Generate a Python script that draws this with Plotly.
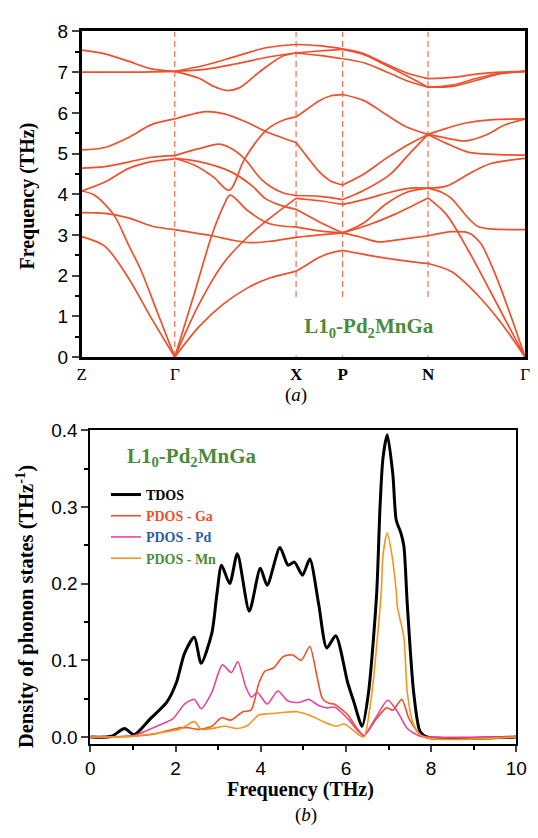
import plotly.graph_objects as go

# ---------------- Panel (a): phonon dispersion ----------------
kpoint_pos = [0, 96, 221, 269, 357, 457]
kpoint_labels = ["Z", "Γ", "<b>X</b>", "<b>P</b>", "<b>N</b>", "Γ"]
dashed_at = [96, 221, 269, 357]

# branches per path segment: (k-path distance, frequency THz)
seg_Z_G = [
    ([0, 24, 48, 72, 96], [7.54, 7.45, 7.27, 7.08, 7.02]),
    ([0, 48, 96], [7.0, 7.0, 7.02]),
    ([0, 24, 48, 72, 96], [5.09, 5.15, 5.39, 5.71, 5.85]),
    ([0, 24, 48, 72, 96], [4.64, 4.68, 4.79, 4.91, 4.95]),
    ([0, 24, 48, 72, 96], [4.08, 4.30, 4.63, 4.80, 4.87]),
    ([0, 13, 33, 48, 61, 78, 96], [4.08, 3.98, 3.50, 2.77, 2.14, 1.10, 0.0]),
    ([0, 24, 48, 72, 96], [3.55, 3.53, 3.42, 3.22, 3.13]),
    ([0, 24, 48, 72, 96], [2.96, 2.72, 1.95, 0.95, 0.0]),
]
seg_G_X = [
    ([96, 127, 158, 190, 221], [7.02, 7.17, 7.38, 7.60, 7.68]),
    ([96, 127, 158, 190, 221], [7.02, 7.07, 7.20, 7.36, 7.47]),
    ([96, 121, 136, 149, 163, 183, 206, 221], [7.02, 6.85, 6.65, 6.55, 6.62, 7.00, 7.38, 7.47]),
    ([96, 111, 128, 146, 169, 189, 221], [5.85, 5.95, 6.03, 5.98, 5.78, 5.55, 5.27]),
    ([96, 121, 142, 156, 168, 186, 206, 221], [4.95, 5.12, 5.23, 5.10, 4.87, 4.35, 4.05, 3.97]),
    ([96, 121, 154, 176, 189, 206, 221], [4.88, 4.80, 4.55, 4.20, 3.90, 3.72, 3.63]),
    ([96, 116, 136, 152, 168, 191, 209, 221], [4.88, 4.72, 4.42, 4.10, 4.87, 5.59, 5.83, 5.90]),
    ([96, 116, 134, 146, 153, 171, 191, 206, 221], [0.0, 1.55, 2.98, 3.70, 3.98, 3.60, 3.30, 3.22, 3.20]),
    ([96, 116, 134, 156, 174, 196, 221], [3.13, 3.05, 2.98, 2.87, 2.81, 2.85, 2.94]),
    ([96, 121, 146, 171, 196, 221], [0.0, 1.30, 2.30, 2.95, 3.45, 3.90]),
    ([96, 121, 146, 171, 191, 211, 221], [0.0, 0.75, 1.30, 1.70, 1.92, 2.05, 2.11]),
]
seg_X_P = [
    ([221, 245, 269], [7.68, 7.65, 7.57]),
    ([221, 245, 269], [7.47, 7.52, 7.56]),
    ([221, 245, 269], [7.47, 7.41, 7.33]),
    ([221, 233, 245, 257, 269], [5.90, 6.10, 6.30, 6.42, 6.45]),
    ([221, 233, 245, 257, 269], [5.27, 4.90, 4.55, 4.32, 4.23]),
    ([221, 245, 269], [3.97, 3.95, 3.87]),
    ([221, 245, 269], [3.90, 3.84, 3.75]),
    ([221, 245, 269], [3.63, 3.32, 3.05]),
    ([221, 245, 269], [3.20, 3.10, 3.05]),
    ([221, 245, 269], [2.94, 3.00, 3.05]),
    ([221, 233, 245, 257, 269], [2.11, 2.28, 2.45, 2.56, 2.62]),
]
seg_P_N = [
    ([269, 291, 312, 335, 357], [7.57, 7.45, 7.22, 6.98, 6.84]),
    ([269, 291, 312, 335, 357], [7.56, 7.43, 7.19, 6.91, 6.63]),
    ([269, 291, 312, 335, 357], [7.33, 7.23, 7.03, 6.79, 6.63]),
    ([269, 291, 313, 335, 357], [6.45, 6.30, 5.97, 5.65, 5.47]),
    ([269, 291, 313, 335, 357], [4.23, 4.50, 4.87, 5.20, 5.47]),
    ([269, 291, 318, 336, 357], [3.87, 4.10, 4.49, 4.95, 5.47]),
    ([269, 296, 318, 339, 357], [3.75, 3.90, 4.05, 4.15, 4.15]),
    ([269, 291, 313, 335, 357], [3.05, 3.30, 3.75, 4.05, 4.15]),
    ([269, 296, 322, 341, 357], [3.05, 3.25, 3.50, 3.72, 3.91]),
    ([269, 287, 306, 331, 357], [3.05, 2.95, 2.83, 2.90, 2.98]),
    ([269, 296, 322, 341, 357], [2.62, 2.50, 2.40, 2.34, 2.30]),
]
seg_N_G = [
    ([357, 382, 407, 432, 457], [6.84, 6.87, 6.95, 7.00, 7.02]),
    ([357, 382, 407, 432, 457], [6.63, 6.68, 6.85, 6.98, 7.02]),
    ([357, 382, 407, 432, 457], [6.63, 6.65, 6.80, 6.96, 7.02]),
    ([357, 376, 396, 421, 457], [5.47, 5.62, 5.75, 5.83, 5.85]),
    ([357, 376, 396, 416, 436, 457], [5.47, 5.38, 5.31, 5.45, 5.70, 5.85]),
    ([357, 376, 399, 426, 457], [5.47, 5.25, 5.03, 4.98, 4.96]),
    ([357, 376, 399, 421, 457], [4.15, 4.20, 4.50, 4.75, 4.88]),
    ([357, 371, 381, 399, 409, 421, 457], [4.15, 4.05, 3.90, 3.40, 3.20, 3.15, 3.13]),
    ([357, 376, 399, 422, 457], [3.91, 3.50, 2.60, 1.58, 0.0]),
    ([357, 382, 399, 411, 426, 441, 457], [2.98, 3.08, 3.05, 2.80, 2.05, 1.10, 0.0]),
    ([357, 381, 407, 432, 457], [2.30, 2.10, 1.55, 0.85, 0.0]),
]

# ---------------- Panel (b): phonon DOS ----------------
tdos_f = [0, 0.5, 0.8, 1.03, 1.41, 1.79, 2.02, 2.21, 2.44, 2.6, 2.85, 2.97, 3.08, 3.27, 3.45,
          3.73, 3.99, 4.15, 4.45, 4.64, 4.79, 4.98, 5.15, 5.36, 5.55, 5.76, 6.04, 6.19, 6.38,
          6.53, 6.72, 6.8, 6.87, 6.97, 7.1, 7.18, 7.29, 7.36, 7.44, 7.59, 7.74, 7.9, 10]
tdos_v = [0, 0.001, 0.011, 0.003, 0.024, 0.045, 0.071, 0.109, 0.13, 0.096, 0.135, 0.186, 0.224,
          0.2, 0.239, 0.164, 0.22, 0.198, 0.247, 0.224, 0.228, 0.211, 0.232, 0.173, 0.116, 0.132,
          0.071, 0.045, 0.014, 0.058, 0.186, 0.3, 0.364, 0.394, 0.343, 0.283, 0.266, 0.249, 0.173,
          0.058, 0.007, 0, 0]
ga_f = [0, 1.0, 1.5, 1.8, 2.1, 2.3, 2.55, 2.85, 3.08, 3.3, 3.58, 3.77, 3.96, 4.1, 4.3, 4.53,
        4.75, 4.95, 5.15, 5.32, 5.45, 5.6, 5.72, 6.04, 6.25, 6.42, 6.72, 6.95, 7.1, 7.31, 7.48,
        7.74, 7.9, 10]
ga_v = [0, 0.001, 0.004, 0.008, 0.012, 0.012, 0.01, 0.014, 0.025, 0.022, 0.033, 0.035, 0.071,
        0.086, 0.09, 0.105, 0.107, 0.1, 0.118, 0.079, 0.05, 0.044, 0.043, 0.029, 0.012, 0.002,
        0.024, 0.038, 0.035, 0.049, 0.024, 0.003, 0, 0]
pd_f = [0, 0.8, 1.03, 1.64, 1.94, 2.21, 2.44, 2.6, 2.85, 3.1, 3.31, 3.46, 3.65, 3.78, 3.92,
        4.15, 4.4, 4.64, 4.9, 5.13, 5.36, 5.55, 5.73, 6.04, 6.25, 6.42, 6.7, 6.98, 7.21, 7.44,
        7.74, 7.9, 10]
pd_v = [0, 0.001, 0.002, 0.016, 0.024, 0.043, 0.049, 0.037, 0.058, 0.094, 0.084, 0.098, 0.065,
        0.052, 0.058, 0.043, 0.06, 0.047, 0.045, 0.049, 0.041, 0.038, 0.039, 0.024, 0.01, 0.002,
        0.025, 0.048, 0.033, 0.011, 0.001, 0, 0]
mn_f = [0, 1.0, 1.79, 2.1, 2.44, 2.6, 2.85, 3.16, 3.46, 3.69, 3.96, 4.15, 4.5, 4.86, 5.16,
        5.47, 5.77, 5.96, 6.3, 6.42, 6.61, 6.76, 6.83, 6.87, 6.97, 7.08, 7.18, 7.21, 7.36, 7.44,
        7.59, 7.82, 10]
mn_v = [0, 0.001, 0.007, 0.01, 0.02, 0.01, 0.011, 0.014, 0.011, 0.015, 0.029, 0.03, 0.032,
        0.033, 0.028, 0.02, 0.014, 0.017, 0.003, 0.0, 0.058, 0.143, 0.19, 0.237, 0.266, 0.237,
        0.19, 0.169, 0.13, 0.058, 0.016, 0, 0]

dos_names = ["TDOS", "PDOS - Ga", "PDOS - Pd", "PDOS - Mn"]
dos_line_colors = ["#000000", "#ef4f2b", "#e8449a", "#f7941d"]
dos_text_colors = ["#000000", "#ef4f2b", "#2c5aa8", "#4c8a3c"]
dos_widths = [3, 1.6, 1.6, 1.6]

BAND = "#ef4f2b"
SERIF = "Liberation Serif"
SANS = "Liberation Sans"
GREEN = "#4c8a3c"
W, H = 538, 838

fig = go.Figure()

for k in dashed_at:
    fig.add_trace(go.Scatter(x=[k, k], y=[0, 8], mode="lines",
                             line=dict(color="#f0603a", width=1.1, dash="6px,4px"),
                             showlegend=False, hoverinfo="skip", xaxis="x", yaxis="y"))

for seg in (seg_Z_G, seg_G_X, seg_X_P, seg_P_N, seg_N_G):
    for ks, fs in seg:
        fig.add_trace(go.Scatter(x=ks, y=fs, mode="lines",
                                 line=dict(color=BAND, width=1.7, shape="spline", smoothing=0.9),
                                 showlegend=False, hoverinfo="skip", xaxis="x", yaxis="y"))

for f, v, name, lc, tc, w in zip([tdos_f, ga_f, pd_f, mn_f], [tdos_v, ga_v, pd_v, mn_v],
                                 dos_names, dos_line_colors, dos_text_colors, dos_widths):
    fig.add_trace(go.Scatter(x=f, y=v, mode="lines",
                             name=f"<b><span style='color:{tc}'>{name}</span></b>",
                             line=dict(color=lc, width=w, shape="spline", smoothing=0.7),
                             xaxis="x2", yaxis="y2"))

def px_x(p):
    return p / W

def px_y(p):
    return 1 - p / H

axis_common = dict(showline=True, linecolor="black", mirror=True, showgrid=False, zeroline=False)

fig.update_layout(
    width=W, height=H, margin=dict(l=0, r=0, t=0, b=0),
    paper_bgcolor="white", plot_bgcolor="white",
    xaxis=dict(domain=[px_x(79), px_x(536)], range=[0, 457], tickvals=kpoint_pos,
               ticktext=kpoint_labels, ticks="", linewidth=2.5, anchor="y",
               tickfont=dict(family=SERIF, size=17, color="black"), **axis_common),
    yaxis=dict(domain=[px_y(356), px_y(22)], range=[0, 8], dtick=1, tick0=0, ticks="outside",
               ticklen=7, tickwidth=2, linewidth=2.5, anchor="x",
               minor=dict(dtick=0.5, ticklen=4, tickwidth=1.5, ticks="outside", tickcolor="black"),
               tickfont=dict(family=SANS, size=19, color="black"), **axis_common),
    xaxis2=dict(domain=[px_x(88), px_x(527)], range=[0, 10], dtick=2, tick0=0, ticks="outside",
                ticklen=6, tickwidth=2, linewidth=2, anchor="y2",
                minor=dict(dtick=1, ticklen=4, tickwidth=1.5, ticks="outside", tickcolor="black"),
                tickfont=dict(family=SANS, size=19, color="black"), **axis_common),
    yaxis2=dict(domain=[px_y(753), px_y(431)], range=[-0.0093, 0.4], dtick=0.1, tick0=0,
                tickformat=".1f", ticks="outside", ticklen=7, tickwidth=2, linewidth=2,
                anchor="x2",
                minor=dict(dtick=0.05, ticklen=4, tickwidth=1.5, ticks="outside", tickcolor="black"),
                tickfont=dict(family=SANS, size=19, color="black"), **axis_common),
    legend=dict(x=px_x(104), y=px_y(481), xanchor="left", yanchor="top",
                font=dict(family=SERIF, size=14), bgcolor="rgba(0,0,0,0)",
                tracegroupgap=0, itemwidth=30),
    showlegend=True,
)

ann = [
    dict(text="<b>Frequency (THz)</b>", x=px_x(23), y=px_y(191), textangle=-90,
         font=dict(family=SERIF, size=20, color="black")),
    dict(text="<b>Density of phonon states (THz<sup>-1</sup>)</b>", x=px_x(21), y=px_y(612),
         textangle=-90, font=dict(family=SERIF, size=20.5, color="black")),
    dict(text="<b>Frequency (THz)</b>", x=px_x(305), y=px_y(800),
         font=dict(family=SERIF, size=20, color="black")),
    dict(text="(<i>a</i>)", x=px_x(300), y=px_y(395),
         font=dict(family=SERIF, size=19, color="black")),
    dict(text="(<i>b</i>)", x=px_x(310), y=px_y(826),
         font=dict(family=SERIF, size=19, color="black")),
    dict(text="<b>L1<sub>0</sub>-Pd<sub>2</sub>MnGa</b>", x=px_x(375), y=px_y(325.5),
         font=dict(family=SERIF, size=21, color=GREEN), bgcolor="white",
         width=156, height=55, borderpad=0),
    dict(text="<b>L1<sub>0</sub>-Pd<sub>2</sub>MnGa</b>", x=px_x(193), y=px_y(458),
         font=dict(family=SERIF, size=21, color=GREEN)),
]
for a in ann:
    a.update(xref="paper", yref="paper", showarrow=False, xanchor="center", yanchor="middle")
fig.update_layout(annotations=ann)

fig.write_html("out.html")
